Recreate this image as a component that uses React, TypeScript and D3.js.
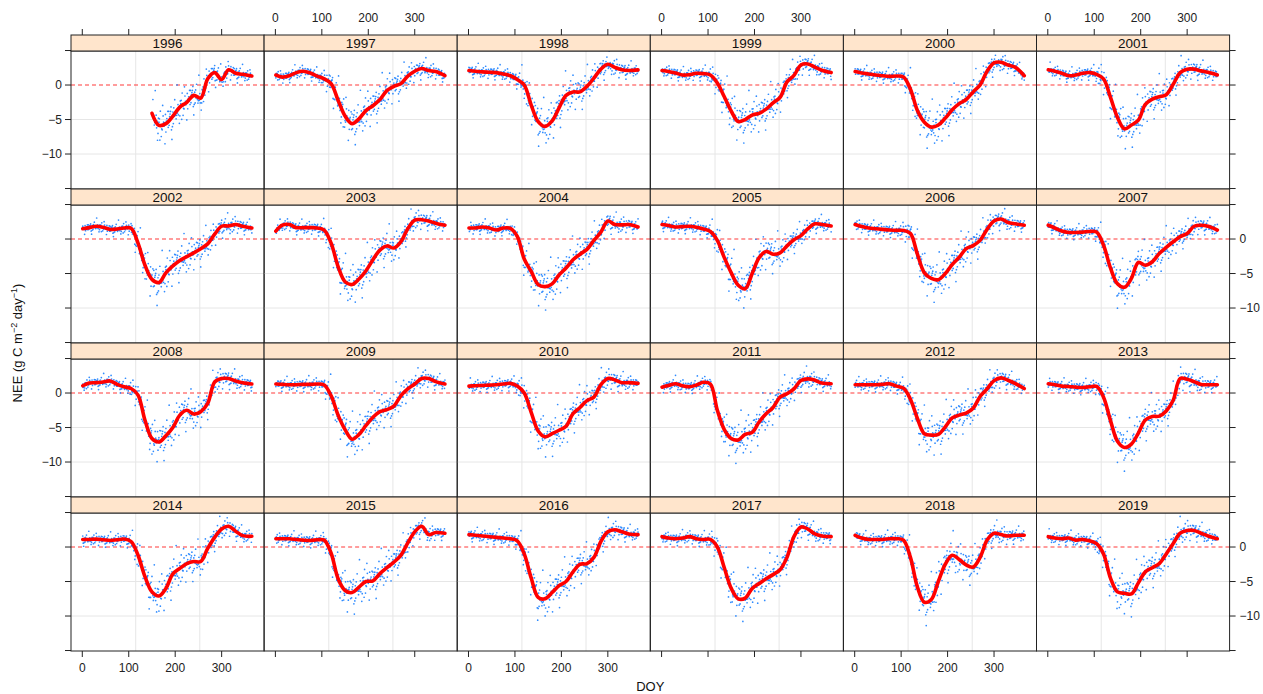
import * as d3 from 'd3';

// one lattice panel per year
const years = [1996, 1997, 1998, 1999, 2000, 2001, 2002, 2003, 2004, 2005, 2006, 2007,
  2008, 2009, 2010, 2011, 2012, 2013, 2014, 2015, 2016, 2017, 2018, 2019];

const knotDoy = [1, 15, 30, 45, 60, 75, 90, 105, 120, 135, 150, 165, 180, 195, 210, 225, 240, 255, 270, 285, 300, 315, 330, 345, 365];

const nee1996 = [null, null, null, null, null, null, null, null, null, null, -4.1, -5.85, -5.6, -4.5, -3.2, -2.5, -1.5, -1.9, 0.9, 1.8, 0.8, 2.2, 1.7, 1.55, 1.3];
const nee1997 = [1.45, 1.15, 1.35, 1.8, 2.0, 1.75, 1.3, 0.9, 0.2, -2.2, -4.5, -5.6, -4.9, -3.7, -3.0, -2.1, -0.8, -0.2, 0.2, 1.3, 2.0, 2.4, 2.1, 1.95, 1.35];
const nee1998 = [2.1, 2.0, 1.9, 1.85, 1.8, 1.6, 1.35, 0.8, 0.0, -2.9, -5.3, -6.0, -5.2, -3.3, -1.5, -1.0, -1.0, -0.2, 1.0, 2.3, 3.0, 2.55, 2.2, 2.1, 2.2];
const nee1999 = [2.1, 1.95, 1.75, 1.45, 1.5, 1.7, 1.65, 1.45, 0.3, -1.7, -3.8, -5.3, -5.0, -4.35, -4.1, -3.5, -2.6, -1.8, 0.45, 1.4, 2.9, 3.05, 2.6, 2.15, 1.8];
const nee2000 = [1.95, 1.75, 1.6, 1.45, 1.35, 1.25, 1.3, 1.15, -0.6, -3.7, -5.4, -6.1, -5.8, -4.8, -3.6, -2.7, -2.1, -1.0, 0.0, 2.0, 3.2, 3.3, 2.9, 2.6, 1.35];
const nee2001 = [2.2, 2.0, 1.7, 1.35, 1.45, 1.7, 1.8, 1.55, 0.9, -1.8, -4.7, -6.35, -5.8, -5.1, -2.8, -2.05, -1.7, -1.4, 0.1, 1.8, 2.3, 2.3, 2.05, 1.85, 1.45];
const nee2002 = [1.5, 1.65, 1.85, 1.7, 1.4, 1.45, 1.6, 1.55, -0.6, -3.8, -5.85, -6.3, -4.9, -3.9, -3.1, -2.55, -2.0, -1.4, -0.7, 0.7, 1.85, 1.9, 2.1, 1.85, 1.6];
const nee2003 = [1.15, 2.0, 2.1, 1.65, 1.65, 1.65, 1.6, 1.3, -0.6, -4.0, -6.2, -6.6, -5.8, -4.6, -3.0, -1.6, -1.0, -1.3, -0.4, 1.5, 2.75, 2.8, 2.6, 2.3, 2.0];
const nee2004 = [1.6, 1.6, 1.75, 1.6, 1.3, 1.6, 1.55, 0.4, -2.9, -4.7, -6.6, -6.9, -6.5, -5.2, -4.2, -3.0, -2.2, -1.5, -0.2, 1.0, 2.6, 2.1, 2.05, 2.1, 1.75];
const nee2005 = [2.1, 1.95, 1.75, 1.8, 1.85, 1.7, 1.45, 1.1, -0.2, -2.7, -4.9, -6.7, -7.2, -5.0, -2.7, -1.8, -2.2, -2.0, -1.0, -0.1, 0.5, 1.5, 2.2, 2.1, 1.9];
const nee2006 = [2.1, 1.8, 1.6, 1.5, 1.4, 1.3, 1.25, 1.25, 0.8, -2.2, -4.9, -5.7, -5.9, -5.0, -3.7, -2.65, -1.4, -0.95, -0.2, 1.4, 2.6, 2.9, 2.4, 2.2, 2.0];
const nee2007 = [2.0, 1.6, 1.15, 0.95, 0.95, 1.0, 1.1, 1.0, -0.9, -4.2, -6.5, -7.0, -5.7, -3.4, -3.8, -3.3, -2.1, -1.2, -0.4, 0.35, 0.8, 1.85, 2.0, 1.85, 1.3];
const nee2008 = [1.05, 1.45, 1.5, 1.6, 1.75, 1.25, 0.9, 0.65, -0.3, -3.95, -6.6, -7.1, -6.2, -5.0, -3.2, -2.5, -3.05, -2.7, -1.5, 1.6, 2.1, 2.1, 1.75, 1.5, 1.3];
const nee2009 = [1.3, 1.25, 1.2, 1.2, 1.25, 1.25, 1.3, 1.15, -0.4, -3.2, -5.3, -6.7, -6.0, -4.7, -3.5, -2.7, -2.4, -1.9, -0.4, 0.6, 1.3, 2.1, 2.1, 1.65, 1.3];
const nee2010 = [1.0, 1.05, 1.1, 1.15, 1.2, 1.3, 1.4, 1.0, 0.0, -2.8, -5.5, -6.35, -5.9, -5.4, -4.8, -3.0, -2.1, -1.1, -0.6, 1.2, 2.1, 1.9, 1.5, 1.5, 1.4];
const nee2011 = [0.85, 1.1, 1.35, 1.05, 0.9, 1.15, 1.55, 1.3, -2.5, -5.3, -6.6, -6.8, -6.0, -5.7, -4.2, -3.0, -2.1, -0.6, -0.1, 0.6, 1.8, 2.05, 1.85, 1.45, 1.35];
const nee2012 = [1.2, 1.2, 1.2, 1.2, 1.25, 1.35, 1.0, 0.7, -0.9, -3.7, -5.9, -6.1, -6.0, -4.9, -3.6, -3.2, -2.9, -2.2, -0.5, 0.6, 1.8, 2.2, 1.85, 1.4, 0.65];
const nee2013 = [1.35, 1.2, 1.0, 0.95, 0.85, 0.8, 0.9, 0.95, -0.6, -4.0, -7.0, -7.9, -7.4, -5.8, -3.9, -3.4, -3.35, -2.6, -1.05, 2.1, 2.0, 1.65, 1.25, 1.2, 1.2];
const nee2014 = [1.1, 1.1, 1.15, 1.05, 0.95, 1.05, 1.15, 0.8, -1.2, -4.3, -6.5, -7.1, -6.0, -3.9, -3.1, -2.4, -2.1, -2.1, -0.2, 1.4, 2.6, 3.0, 2.3, 1.65, 1.55];
const nee2015 = [1.2, 1.2, 1.2, 1.1, 1.0, 0.95, 1.05, 1.0, -0.9, -4.6, -6.3, -6.6, -5.8, -5.0, -4.9, -3.85, -3.0, -2.2, -1.2, 0.6, 2.2, 3.0, 1.8, 2.1, 2.0];
const nee2016 = [1.8, 1.7, 1.6, 1.5, 1.4, 1.3, 1.2, 0.9, -1.0, -4.5, -7.3, -7.5, -6.6, -5.6, -5.0, -3.6, -2.5, -2.4, -1.5, 0.8, 2.2, 2.5, 2.2, 1.9, 1.8];
const nee2017 = [1.5, 1.3, 1.2, 1.3, 1.5, 1.2, 1.1, 1.1, 0.0, -3.0, -6.0, -7.5, -7.4, -6.0, -5.3, -4.6, -4.0, -3.3, -1.5, 1.5, 2.9, 2.6, 1.9, 1.6, 1.5];
const nee2018 = [1.7, 1.3, 1.1, 1.1, 1.1, 1.2, 1.2, 1.0, -1.5, -5.8, -8.0, -7.6, -5.0, -2.5, -1.2, -1.8, -2.6, -2.9, -1.5, 1.0, 2.0, 1.8, 1.6, 1.7, 1.7];
const nee2019 = [1.5, 1.3, 1.2, 1.3, 1.0, 1.1, 0.9, 0.5, -1.0, -4.5, -6.5, -6.7, -6.8, -5.2, -3.6, -3.0, -2.4, -1.0, 0.5, 2.0, 2.4, 2.4, 2.0, 1.6, 1.2];

const smoothSeries = [nee1996, nee1997, nee1998, nee1999, nee2000, nee2001, nee2002, nee2003,
  nee2004, nee2005, nee2006, nee2007, nee2008, nee2009, nee2010, nee2011, nee2012, nee2013,
  nee2014, nee2015, nee2016, nee2017, nee2018, nee2019];

// daily scatter: hand-typed deviations from the smooth, scaled by a seasonal spread
const scatterDev = [0.3, -0.6, 0.9, -0.2, -1.1, 0.5, 0.1, -0.8, 1.4, -0.4, 0.7, -1.6, 0.2, 0.0, -0.5, 1.1,
  -0.9, 0.4, -0.3, 1.8, -1.2, 0.6, -0.1, -0.7, 0.8, -2.2, 0.3, 1.0, -0.4, 0.2, -1.0, 0.6, -0.6, 2.6,
  -0.2, 0.4, -1.4, 0.9, -0.3, 0.1, -0.8, 1.3, -0.5, 0.5, -1.9, 0.7, -0.1];
const spreadDoy = [1, 100, 120, 150, 200, 250, 300, 365];
const spreadAmt = [0.45, 0.5, 1.2, 1.6, 1.45, 1.25, 0.8, 0.45];
const firstDoy1996 = 152;

const xTicks = [0, 100, 200, 300];
const yTicks = [5, 0, -5, -10, -15];
const yTickLabels = [0, -5, -10];
const gridDoy = [115, 253];
const gridNee = [-5, -10];

const W = 1263;
const H = 694;
const LEFT = 71;
const TOP = 35;
const NCOL = 6;
const COL_W = 193.1;
const STRIP_H = 16;
const PANEL_H = 138;
const FONT = '"Liberation Sans", Arial, Helvetica, sans-serif';

const fmt = (v: number) => (v < 0 ? '\u2212' + Math.abs(v) : String(v));

export default function App() {
  const x = d3.scaleLinear().domain([-24.3, 391.4]).range([0, COL_W]);
  const y = d3.scaleLinear().domain([-15.07, 4.93]).range([PANEL_H, 0]);
  const spread = d3.scaleLinear().domain(spreadDoy).range(spreadAmt);
  const line = d3
    .line<[number, number]>()
    .x(d => x(d[0]))
    .y(d => y(d[1]))
    .curve(d3.curveCatmullRom.alpha(0.5));

  const nRow = Math.ceil(years.length / NCOL);
  const plotBottom = TOP + nRow * (STRIP_H + PANEL_H);
  const plotRight = LEFT + NCOL * COL_W;

  return (
    <svg width={W} height={H} style={{ position: 'absolute', left: 0, top: 0, fontFamily: FONT }}>
      <rect width={W} height={H} fill="#fff" />
      {years.map((yr, i) => {
        const col = i % NCOL;
        const row = Math.floor(i / NCOL);
        const px = LEFT + col * COL_W;
        const sy = TOP + row * (STRIP_H + PANEL_H);
        const py = sy + STRIP_H;
        const vals = smoothSeries[i];
        const knots = knotDoy
          .map((d, k) => [d, vals[k]] as [number, number | null])
          .filter(p => p[1] !== null) as [number, number][];
        const interp = d3.scaleLinear().domain(knots.map(p => p[0])).range(knots.map(p => p[1]));
        const start = yr === 1996 ? firstDoy1996 : 1;
        const days = d3.range(start, 366);
        return (
          <g key={yr}>
            <g transform={`translate(${px},${py})`}>
              {gridDoy.map(g => (
                <line key={'gv' + g} x1={x(g)} x2={x(g)} y1={0} y2={PANEL_H} stroke="#e6e6e6" strokeWidth={1} />
              ))}
              {gridNee.map(g => (
                <line key={'gh' + g} x1={0} x2={COL_W} y1={y(g)} y2={y(g)} stroke="#e6e6e6" strokeWidth={1} />
              ))}
              <line x1={0} x2={COL_W} y1={y(0)} y2={y(0)} stroke="#ff3b3b" strokeWidth={1.2} strokeDasharray="4 3" />
              {days.map(d => {
                const dev = scatterDev[(d * 5 + i * 11) % scatterDev.length] * spread(d);
                return <circle key={d} cx={x(d)} cy={y(interp(d) + dev)} r={0.85} fill="#1a80ff" opacity={0.9} />;
              })}
              <path d={line(knots) || ''} fill="none" stroke="#ff0000" strokeWidth={3.6} strokeLinejoin="round" strokeLinecap="round" />
              <rect x={0} y={0} width={COL_W} height={PANEL_H} fill="none" stroke="#222" strokeWidth={1} />
            </g>
            <rect x={px} y={sy} width={COL_W} height={STRIP_H} fill="#ffe5cc" stroke="#222" strokeWidth={1} />
            <text x={px + COL_W / 2} y={sy + 13} textAnchor="middle" fontSize={13.5} fill="#111">
              {yr}
            </text>
          </g>
        );
      })}

      {/* x axes: ticks on both sides, labels alternate top / bottom */}
      {d3.range(NCOL).map(col => {
        const px = LEFT + col * COL_W;
        return (
          <g key={'xa' + col} transform={`translate(${px},0)`}>
            {xTicks.map(t => (
              <g key={t}>
                <line x1={x(t)} x2={x(t)} y1={TOP - 6} y2={TOP} stroke="#222" />
                <line x1={x(t)} x2={x(t)} y1={plotBottom} y2={plotBottom + 6} stroke="#222" />
                {col % 2 === 1 ? (
                  <text x={x(t)} y={22} textAnchor="middle" fontSize={12} fill="#222">{t}</text>
                ) : (
                  <text x={x(t)} y={plotBottom + 21} textAnchor="middle" fontSize={12} fill="#222">{t}</text>
                )}
              </g>
            ))}
          </g>
        );
      })}

      {/* y axes: ticks on both sides, labels alternate left / right */}
      {d3.range(nRow).map(row => {
        const py = TOP + row * (STRIP_H + PANEL_H) + STRIP_H;
        return (
          <g key={'ya' + row} transform={`translate(0,${py})`}>
            {yTicks.map(t => (
              <g key={t}>
                <line x1={LEFT - 6} x2={LEFT} y1={y(t)} y2={y(t)} stroke="#222" />
                <line x1={plotRight} x2={plotRight + 6} y1={y(t)} y2={y(t)} stroke="#222" />
              </g>
            ))}
            {yTickLabels.map(t =>
              row % 2 === 0 ? (
                <text key={t} x={LEFT - 9} y={y(t) + 4} textAnchor="end" fontSize={12} fill="#222">{fmt(t)}</text>
              ) : (
                <text key={t} x={plotRight + 10} y={y(t) + 4} textAnchor="start" fontSize={12} fill="#222">{fmt(t)}</text>
              )
            )}
          </g>
        );
      })}

      <text x={(LEFT + plotRight) / 2} y={691} textAnchor="middle" fontSize={13} fill="#111">DOY</text>
      <text transform={`translate(22,${(TOP + plotBottom) / 2}) rotate(-90)`} textAnchor="middle" fontSize={13} fill="#111">
        NEE (g C m<tspan dy={-5} fontSize={9}>{'\u22122'}</tspan>
        <tspan dy={5}> day</tspan>
        <tspan dy={-5} fontSize={9}>{'\u22121'}</tspan>
        <tspan dy={5}>)</tspan>
      </text>
    </svg>
  );
}
